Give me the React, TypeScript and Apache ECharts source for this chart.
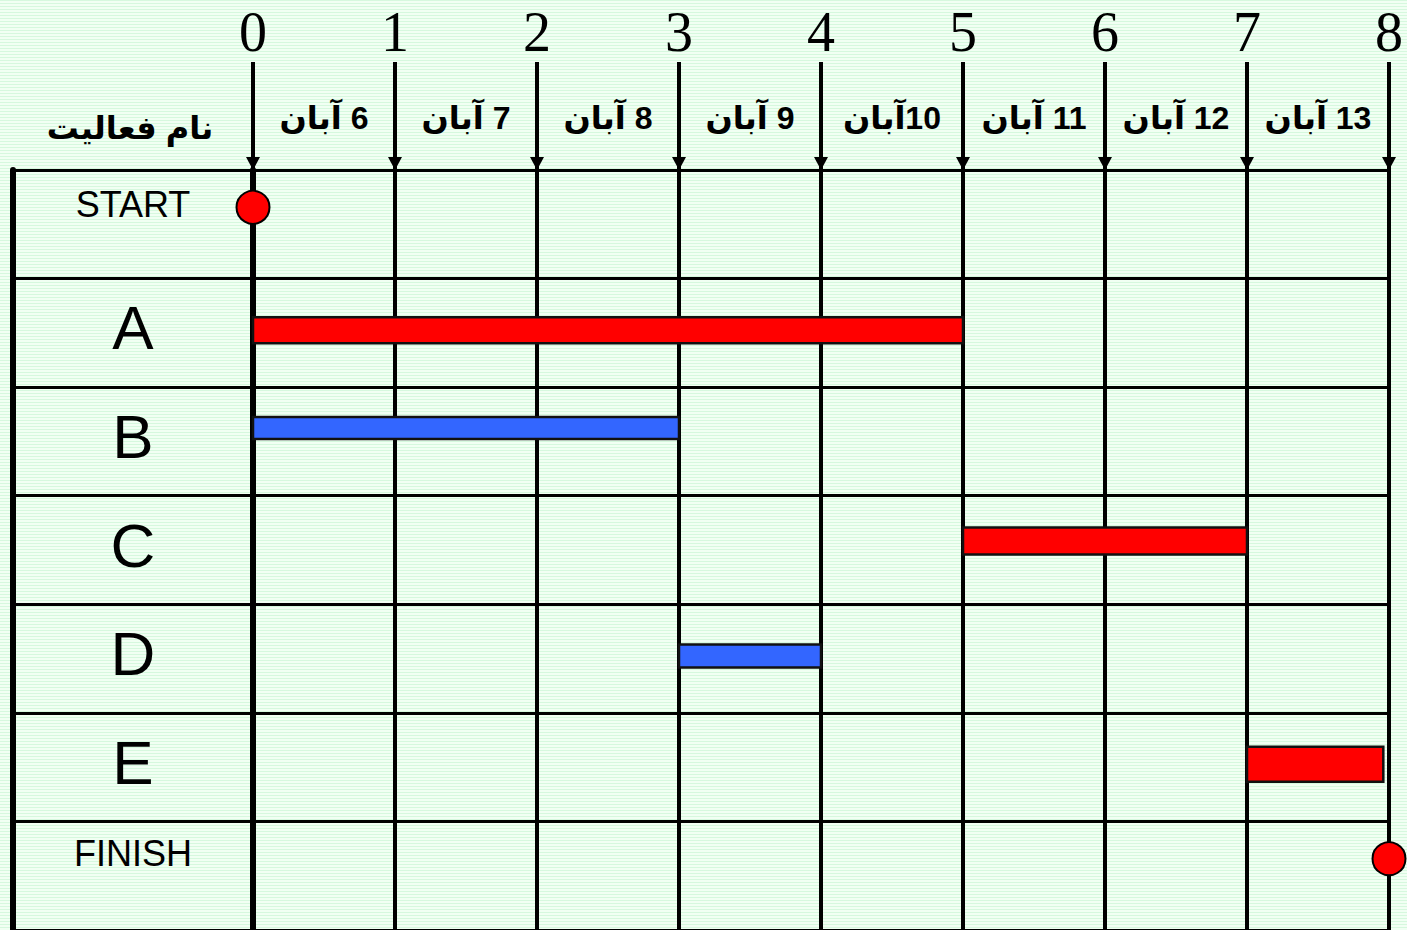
import { useEffect, useRef } from 'react';
import * as echarts from 'echarts';

// ---- data ----
const activities = ['START', 'A', 'B', 'C', 'D', 'E', 'FINISH'];
const taskNames = ['A', 'B', 'C', 'D', 'E'];
const taskStart = [0, 0, 5, 3, 7];
const taskEnd = [5, 3, 7, 4, 7.96];
const taskCritical = [true, false, true, false, true];
const milestoneNames = ['START', 'FINISH'];
const milestoneTimes = [0, 8];
const timeTicks = [0, 1, 2, 3, 4, 5, 6, 7, 8];
const dayLabels = ['6 آبان', '7 آبان', '8 آبان', '9 آبان', '10آبان', '11 آبان', '12 آبان', '13 آبان'];
const headerLabel = 'نام فعالیت';

// ---- styles (kept apart from data) ----
const barHeight: Record<string, number> = { A: 26, B: 22, C: 27, D: 23, E: 35 };
const barShift: Record<string, number> = { A: -2.5, B: -13.5, C: -9, D: -2.5, E: -3 };
const labelLift: Record<string, number> = { START: 39, FINISH: 44 };
const RED = '#ff0000';
const BLUE = '#3366ff';
const SANS = 'Arial, "Liberation Sans", "DejaVu Sans", sans-serif';
const SERIF = '"Liberation Serif", "Times New Roman", serif';

export default function App() {
  const ref = useRef<HTMLDivElement>(null);
  useEffect(() => {
    if (!ref.current) return;
    const chart = echarts.init(ref.current, undefined, { renderer: 'svg' });
    const option: any = {
      animation: false,
      backgroundColor: 'transparent',
      grid: [
        { left: 13, top: 170, width: 240, height: 763 },
        { left: 253, right: 18, top: 170, height: 763 },
        { left: 253, right: 18, top: 62, height: 108 },
      ],
      xAxis: [
        { gridIndex: 0, type: 'value', min: 0, max: 1, show: false },
        {
          gridIndex: 1, type: 'value', min: 0, max: 8, interval: 1,
          axisLine: { show: false }, axisTick: { show: false }, axisLabel: { show: false },
          splitLine: { show: true, lineStyle: { color: '#000', width: 4 } },
        },
        {
          gridIndex: 1, type: 'category', position: 'top', data: dayLabels, boundaryGap: true,
          axisLine: { show: false }, axisTick: { show: false }, splitLine: { show: false },
          axisLabel: {
            interval: 0, margin: 36, fontSize: 32, fontWeight: 'bold', fontFamily: SANS, color: '#000',
            formatter: (v: string) => '\u200F' + v,
          },
        },
        {
          gridIndex: 2, type: 'value', position: 'top', min: 0, max: 8, interval: 1,
          axisLine: { show: false }, axisTick: { show: false },
          axisLabel: { fontSize: 56, fontFamily: SERIF, color: '#000', margin: 2, showMinLabel: true, showMaxLabel: true },
          splitLine: { show: true, lineStyle: { color: '#000', width: 4 } },
        },
      ],
      yAxis: [
        {
          gridIndex: 0, type: 'category', data: activities, inverse: true,
          axisLine: { show: true, lineStyle: { color: '#000', width: 6 } },
          axisTick: { show: false },
          splitLine: { show: true, lineStyle: { color: '#000', width: 3 } },
          axisLabel: {
            inside: true, margin: 120, align: 'center', color: '#000', fontFamily: SANS,
            formatter: (v: string) => {
              const lift = labelLift[v] ?? 10;
              const main = v.length > 1 ? `{m|${v}}` : `{l|${v}}`;
              return `${main}\n{g${lift}| }`;
            },
            rich: {
              m: { fontSize: 36, fontFamily: SANS, color: '#000', lineHeight: 40 },
              l: { fontSize: 62, fontFamily: SANS, color: '#000', lineHeight: 66 },
              g10: { fontSize: 4, lineHeight: 10 },
              g39: { fontSize: 4, lineHeight: 39 },
              g44: { fontSize: 4, lineHeight: 44 },
            },
          },
        },
        {
          gridIndex: 1, type: 'category', data: activities, inverse: true, position: 'right',
          axisLine: { show: true, lineStyle: { color: '#000', width: 6 } },
          axisTick: { show: false }, axisLabel: { show: false },
          splitLine: { show: true, lineStyle: { color: '#000', width: 3 } },
        },
        { gridIndex: 2, type: 'value', min: 0, max: 1, show: false },
      ],
      series: [
        {
          type: 'custom',
          xAxisIndex: 1,
          yAxisIndex: 1,
          encode: { x: [1, 2], y: 0 },
          data: taskNames.map((n, i) => [n, taskStart[i], taskEnd[i], taskCritical[i] ? 1 : 0]),
          renderItem: (params: any, api: any) => {
            const cat = api.value(0);
            const name = taskNames[params.dataIndex];
            const p0 = api.coord([api.value(1), cat]);
            const p1 = api.coord([api.value(2), cat]);
            const h = barHeight[name] ?? 26;
            const shift = barShift[name] ?? 0;
            return {
              type: 'rect',
              shape: { x: p0[0], y: p0[1] - h / 2 + shift, width: p1[0] - p0[0], height: h },
              style: { fill: api.value(3) ? RED : BLUE, stroke: '#111', lineWidth: 2.5 },
            };
          },
          z: 4,
        },
        {
          type: 'scatter',
          xAxisIndex: 1,
          yAxisIndex: 1,
          data: milestoneNames.map((n, i) => [milestoneTimes[i], n]),
          symbol: 'circle',
          symbolSize: 33,
          symbolOffset: [0, -17],
          itemStyle: { color: RED, borderColor: '#000', borderWidth: 2, opacity: 1 },
          clip: false,
          z: 5,
        },
        {
          type: 'scatter',
          xAxisIndex: 3,
          yAxisIndex: 2,
          data: timeTicks.map((t) => [t, 0]),
          symbol: 'triangle',
          symbolSize: [14, 13],
          symbolRotate: 180,
          symbolOffset: [0, -6.5],
          itemStyle: { color: '#000', opacity: 1 },
          clip: false,
          silent: true,
          z: 5,
        },
      ],
      graphic: [
        {
          type: 'text',
          x: 130,
          y: 128,
          style: {
            text: headerLabel,
            font: `bold 32px ${SANS}`,
            fill: '#000',
            align: 'center',
            verticalAlign: 'middle',
          },
        },
      ],
    };
    chart.setOption(option);
    return () => chart.dispose();
  }, []);
  return (
    <div
      ref={ref}
      style={{
        position: 'absolute',
        left: 0,
        top: 0,
        width: 1407,
        height: 930,
        background:
          'repeating-linear-gradient(180deg, #d6f8de 0px, #d6f8de 1px, #f1fff3 1px, #f1fff3 3px)',
      }}
    />
  );
}
